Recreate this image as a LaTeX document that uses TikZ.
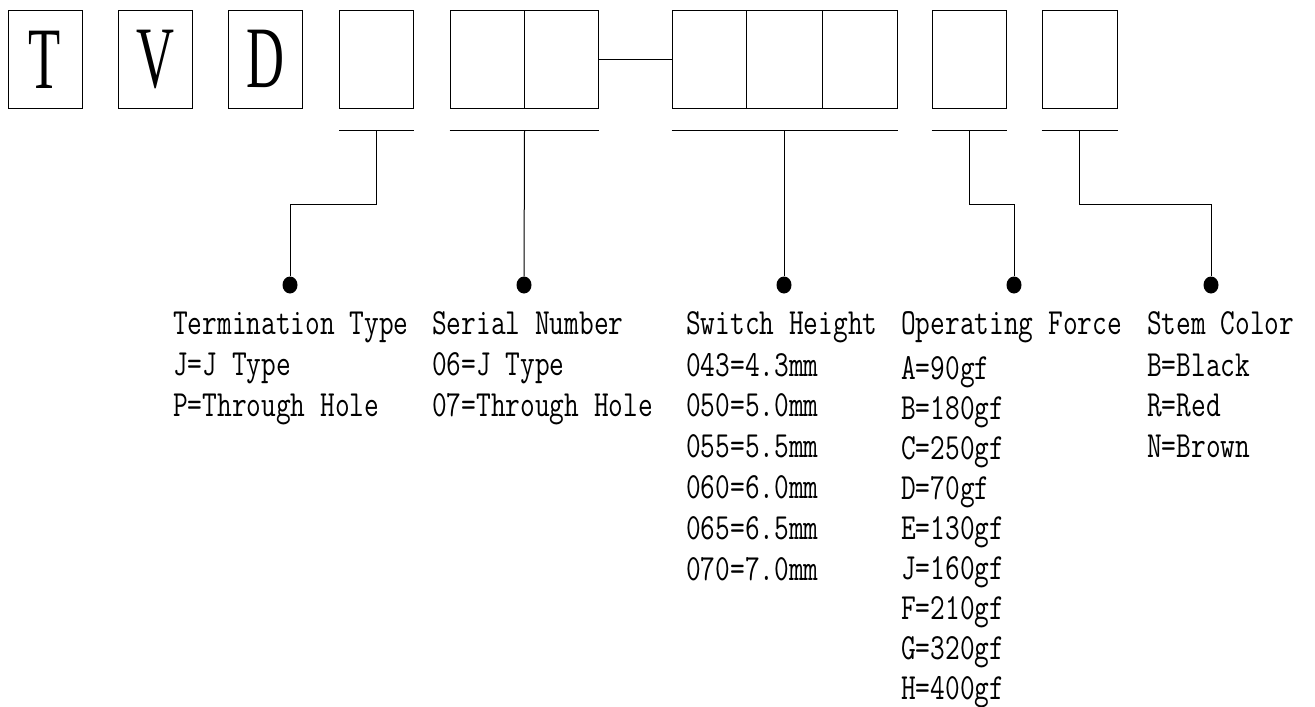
\documentclass[tikz,border=0pt]{standalone}
\usepackage{fontspec}
\usepackage{graphicx}
\usetikzlibrary{shapes.geometric}
\newfontfamily\bigserif{Liberation Serif}
\newcommand{\mytall}[1]{\scalebox{1}[1.29]{#1}}
\newcommand{\mynarrow}[1]{\scalebox{0.6}[1]{#1}}
\tikzset{
  box/.style={draw, line width=1pt, minimum width=74pt, minimum height=97.3pt, inner sep=0pt,
              font=\bigserif\fontsize{87.6}{88}\selectfont},
  conn/.style={line width=1pt},
  blob/.style={ellipse, fill=black, minimum width=15pt, minimum height=17pt, inner sep=0pt},
  lbl/.style={anchor=base west, inner sep=0pt, font=\ttfamily\fontsize{28.57}{30}\selectfont},
}
\begin{document}
\begin{tikzpicture}[x=1pt,y=-1pt]
\useasboundingbox (0,0) rectangle (1315,707);
% code boxes
\node[box] (b1) at (45,59.35) {\mynarrow{T}};
\node[box] (b2) at (155,59.35) {\mynarrow{V}};
\node[box] (b3) at (265,59.35) {\mynarrow{D}};
\node[box] (b4) at (376.5,59.35) {};
\node[box] (b5) at (487,59.35) {};
\node[box] (b6) at (561,59.35) {};
\node[box] (b7) at (709,59.35) {};
\node[box, minimum width=76pt] (b8) at (784,59.35) {};
\node[box, minimum width=75pt] (b9) at (859.5,59.35) {};
\node[box] (b10) at (969,59.35) {};
\node[box, minimum width=75pt] (b11) at (1079.5,59.35) {};
\draw[conn] (b6.east) -- (b7.west);
% underlines
\coordinate (ly) at (0,130.7);
\coordinate (jy) at (0,204);
\draw[conn] (b4.south west |- ly) -- (b4.south east |- ly);
\draw[conn] (b5.south west |- ly) -- (b6.south east |- ly);
\draw[conn] (b7.south west |- ly) -- (b9.south east |- ly);
\draw[conn] (b10.south west |- ly) -- (b10.south east |- ly);
\draw[conn] (b11.south west |- ly) -- (b11.south east |- ly);
% dots
\node[blob] (d1) at (290,285) {};
\node[blob] (d2) at (524,285) {};
\node[blob] (d3) at (784,285) {};
\node[blob] (d4) at (1014,285) {};
\node[blob] (d5) at (1211,285) {};
% leaders
\draw[conn] (b4.south |- ly) |- (d1 |- jy) -- (d1);
\draw[conn] (b5.south east |- ly) -- (d2);
\draw[conn] (b8.south |- ly) -- (d3);
\draw[conn] (b10.south |- ly) |- (d4 |- jy) -- (d4);
\draw[conn] (b11.south |- ly) |- (d5 |- jy) -- (d5);
% headings
\node[lbl] (h1) at (173,334) {\mytall{Termination Type}};
\node[lbl] (h2) at (432,334) {\mytall{Serial Number}};
\node[lbl] (h3) at (686,334) {\mytall{Switch Height}};
\node[lbl] (h4) at (901,334) {\mytall{Operating Force}};
\node[lbl] (h5) at (1147,334) {\mytall{Stem Color}};
% options
\foreach \t [count=\i from 0] in {{J=J Type},{P=Through Hole}}
  \node[lbl] (ta\i) at (173,{375.5+41*\i}) {\mytall{\t}};
\foreach \t [count=\i from 0] in {{06=J Type},{07=Through Hole}}
  \node[lbl] (sn\i) at (432,{375.5+41*\i}) {\mytall{\t}};
\foreach \t [count=\i from 0] in {043=4.3mm,050=5.0mm,055=5.5mm,060=6.0mm,065=6.5mm,070=7.0mm}
  \node[lbl] (sh\i) at (686,{376+40.8*\i}) {\mytall{\t}};
\foreach \t [count=\i from 0] in {A=90gf,B=180gf,C=250gf,D=70gf,E=130gf,J=160gf,F=210gf,G=320gf,H=400gf}
  \node[lbl] (of\i) at (901,{379+40.1*\i}) {\mytall{\t}};
\foreach \t [count=\i from 0] in {B=Black,R=Red,N=Brown}
  \node[lbl] (sc\i) at (1147,{376+40.6*\i}) {\mytall{\t}};
\end{tikzpicture}
\end{document}
